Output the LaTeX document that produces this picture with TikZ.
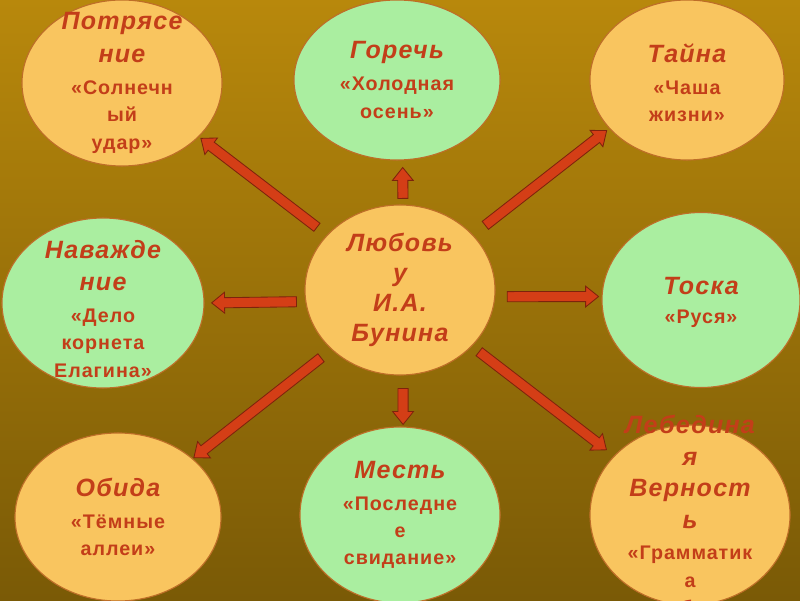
\documentclass[tikz,border=0pt]{standalone}
\usepackage{fontspec}
\setmainfont{Liberation Sans}[LetterSpace=5]
\usepackage{tikz}
\usetikzlibrary{calc,shapes.geometric}

\definecolor{bgtop}{RGB}{184,136,12}
\definecolor{bgbot}{RGB}{122,90,6}
\definecolor{peach}{RGB}{249,197,95}
\definecolor{mint}{RGB}{170,238,160}
\definecolor{rim}{RGB}{190,110,40}
\definecolor{ink}{RGB}{195,62,25}
\definecolor{arrowfill}{RGB}{212,62,22}
\definecolor{arrowrim}{RGB}{125,35,12}

\newcommand{\hd}{\fontsize{17.8}{19.5}\selectfont\itshape}

\begin{document}
\begin{tikzpicture}[
  x=0.025cm,
  y=0.025cm,
  font=\fontsize{14}{19.5}\selectfont\bfseries,
  oval/.style={ellipse, draw=rim, line width=0.8pt, inner sep=0pt},
  warm/.style={oval, fill=peach},
  cool/.style={oval, fill=mint},
  words/.style={text=ink, align=center, inner sep=0pt},
  bar/.style 2 args={fill=arrowfill, draw=arrowrim, line width=0.6pt,
    to path={let \p1=(\tikztostart), \p2=(\tikztotarget),
      \n1={atan2(\y2-\y1,\x2-\x1)}, \n2={veclen(\x2-\x1,\y2-\y1)} in
      [shift={(\p1)}, rotate=\n1]
      (#1,-3.6pt) -- (\n2-#2-9.2pt,-3.6pt) -- (\n2-#2-9.2pt,-7.4pt) -- (\n2-#2,0pt)
      -- (\n2-#2-9.2pt,7.4pt) -- (\n2-#2-9.2pt,3.6pt) -- (#1,3.6pt) -- cycle}}
]

\useasboundingbox (0,0) rectangle (800,600);
\shade[top color=bgtop, bottom color=bgbot] (0,0) rectangle (800,600);

% ovals
\node[warm, minimum width=5cm, minimum height=4.15cm] (shock) at (122,517) {};
\node[cool, minimum width=5.15cm, minimum height=4cm] (bitter) at (397,520) {};
\node[warm, minimum width=4.85cm, minimum height=4cm] (secret) at (687,520) {};
\node[cool, minimum width=5.05cm, minimum height=4.25cm] (obsess) at (103,297) {};
\node[warm, minimum width=4.75cm, minimum height=4.25cm] (love) at (400,310) {};
\node[cool, minimum width=4.95cm, minimum height=4.375cm] (longing) at (701,300) {};
\node[warm, minimum width=5.15cm, minimum height=4.2cm] (offence) at (118,83) {};
\node[cool, minimum width=5cm, minimum height=4.4cm] (revenge) at (400,85) {};
\node[warm, minimum width=5cm, minimum height=4.5cm] (swan) at (690,85) {};

% texts
\node[words] (shock-t) at (shock) {{\hd Потрясе}\\[3.5pt]{\hd ние}\\[3.5pt]«Солнечн\\ый\\удар»};
\node[words] (bitter-t) at (bitter) {{\hd Горечь}\\[3pt]«Холодная\\осень»};
\node[words] (secret-t) at ([yshift=-2]secret) {{\hd Тайна}\\[3pt]«Чаша\\жизни»};
\node[words] (obsess-t) at ([yshift=-4]obsess) {{\hd Наважде}\\[3.5pt]{\hd ние}\\[3pt]«Дело\\корнета\\Елагина»};
\node[words] (love-t) at (love) {{\hd Любовь}\\[2pt]{\hd у}\\[2pt]{\hd И.А.}\\[2pt]{\hd Бунина}};
\node[words] (longing-t) at ([yshift=-2]longing) {{\hd Тоска}\\[1pt]«Руся»};
\node[words] (offence-t) at (offence) {{\hd Обида}\\[3pt]«Тёмные\\аллеи»};
\node[words] (revenge-t) at (revenge) {{\hd Месть}\\[3pt]«Последне\\е\\свидание»};
\node[words] (swan-t) at (swan) {{\hd Лебедина}\\[3pt]{\hd я}\\[3pt]{\hd Верност}\\[3pt]{\hd ь}\\[3pt]«Грамматик\\а\\любви»};

% arrows
\draw[bar={8.9pt}{1.4pt}] (love.143) to (shock.-35);
\draw[bar={4.3pt}{5pt}] (love.88) to (bitter.-86);
\draw[bar={11pt}{2.1pt}] (love.37) to (secret.-148);
\draw[bar={6.3pt}{5pt}] (love.187) to (obsess.0);
\draw[bar={8.5pt}{2.1pt}] (love.-4) to (longing.178);
\draw[bar={9.4pt}{0.7pt}] (love.221) to (offence.38);
\draw[bar={9.2pt}{1.4pt}] (love.-88) to (revenge.88);
\draw[bar={6.4pt}{6.8pt}] (love.-38) to (swan.142);

\end{tikzpicture}
\end{document}
